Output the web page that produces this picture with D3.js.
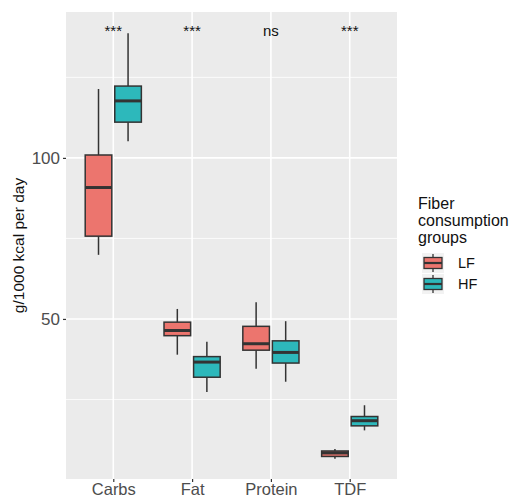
<!DOCTYPE html>
<meta charset="utf-8">
<style>
  body { margin: 0; background: #fff; }
  text { font-family: "Liberation Sans", Arial, sans-serif; }
</style>
<svg width="513" height="499"></svg>
<script src="https://cdn.jsdelivr.net/npm/d3@7"></script>
<script>

var categories = ["Carbs", "Fat", "Protein", "TDF"];
var groups = ["LF", "HF"];
var colors = ["#EC756E", "#2DB8BB"];

// five-number summaries, per group
var lfLow  = [69.9, 38.9, 34.5, 6.6];
var lfQ1   = [75.7, 44.8, 40.3, 7.3];
var lfMed  = [90.8, 46.4, 42.3, 8.4];
var lfQ3   = [100.9, 49.0, 47.7, 9.0];
var lfHigh = [121.4, 53.1, 55.2, 9.6];

var hfLow  = [105.2, 27.3, 30.5, 15.4];
var hfQ1   = [111.1, 31.9, 36.3, 16.8];
var hfMed  = [117.7, 36.6, 39.6, 18.4];
var hfQ3   = [122.3, 38.3, 43.2, 19.7];
var hfHigh = [138.7, 42.9, 49.3, 23.2];

var signif = ["***", "***", "ns", "***"];
var signifY = 139.5;

var yBreaks = [50, 100];
var yMinor = [25, 75, 125];

var svg = d3.select("svg"),
    pLeft = 66, pRight = 397, pTop = 12, pBottom = 479;

var x = d3.scalePoint().domain(categories).range([pLeft, pRight]).padding(0.6);
var step = x.step();
var sub = d3.scaleBand().domain(groups).range([-0.375 * step, 0.375 * step]);
var boxW = sub.bandwidth() * 0.9;
var y = d3.scaleLinear().domain([0.3, 145.3]).range([pBottom, pTop]);

// panel
svg.append("rect")
    .attr("x", pLeft).attr("y", pTop)
    .attr("width", pRight - pLeft).attr("height", pBottom - pTop)
    .attr("fill", "#EBEBEB");

svg.selectAll(".minor").data(yMinor).enter().append("line")
    .attr("x1", pLeft).attr("x2", pRight)
    .attr("y1", function (d) { return y(d); }).attr("y2", function (d) { return y(d); })
    .attr("stroke", "#fff").attr("stroke-width", 0.8);

svg.selectAll(".major").data(yBreaks).enter().append("line")
    .attr("x1", pLeft).attr("x2", pRight)
    .attr("y1", function (d) { return y(d); }).attr("y2", function (d) { return y(d); })
    .attr("stroke", "#fff").attr("stroke-width", 1.6);

svg.selectAll(".vgrid").data(categories).enter().append("line")
    .attr("x1", function (d) { return x(d); }).attr("x2", function (d) { return x(d); })
    .attr("y1", pTop).attr("y2", pBottom)
    .attr("stroke", "#fff").attr("stroke-width", 1.6);

// axes
var yAxis = svg.append("g")
    .attr("transform", "translate(" + pLeft + ",0)")
    .call(d3.axisLeft(y).tickValues(yBreaks).tickSize(3).tickPadding(3));
var xAxis = svg.append("g")
    .attr("transform", "translate(0," + pBottom + ")")
    .call(d3.axisBottom(x).tickSize(3).tickPadding(1.5));
[yAxis, xAxis].forEach(function (g) {
    g.select(".domain").remove();
    g.selectAll(".tick line").attr("stroke", "#333").attr("stroke-width", 1.2);
    g.selectAll(".tick text").attr("fill", "#4D4D4D")
        .style("font-family", "'Liberation Sans', Arial, sans-serif");
});
yAxis.selectAll(".tick text").style("font-size", "17px");
xAxis.selectAll(".tick text").style("font-size", "16.5px");

svg.append("text")
    .attr("transform", "translate(18," + ((pTop + pBottom) / 2) + ") rotate(-90)")
    .attr("text-anchor", "middle").attr("dominant-baseline", "central")
    .style("font-size", "15.5px").attr("fill", "#111")
    .text("g/1000 kcal per day");

// boxes
var stats = [
    {low: lfLow, q1: lfQ1, med: lfMed, q3: lfQ3, high: lfHigh},
    {low: hfLow, q1: hfQ1, med: hfMed, q3: hfQ3, high: hfHigh}
];
var boxes = [];
groups.forEach(function (g, gi) {
    categories.forEach(function (c, ci) {
        var s = stats[gi];
        boxes.push({cat: c, group: g, gi: gi, low: s.low[ci], q1: s.q1[ci], med: s.med[ci], q3: s.q3[ci], high: s.high[ci]});
    });
});

var bx = svg.selectAll(".box").data(boxes).enter().append("g")
    .attr("transform", function (d) { return "translate(" + (x(d.cat) + sub(d.group) + sub.bandwidth() / 2) + ",0)"; });

bx.append("line").attr("x1", 0).attr("x2", 0)
    .attr("y1", function (d) { return y(d.high); }).attr("y2", function (d) { return y(d.q3); })
    .attr("stroke", "#333").attr("stroke-width", 1.5);
bx.append("line").attr("x1", 0).attr("x2", 0)
    .attr("y1", function (d) { return y(d.q1); }).attr("y2", function (d) { return y(d.low); })
    .attr("stroke", "#333").attr("stroke-width", 1.5);
bx.append("rect")
    .attr("x", -boxW / 2).attr("width", boxW)
    .attr("y", function (d) { return y(d.q3); })
    .attr("height", function (d) { return y(d.q1) - y(d.q3); })
    .attr("fill", function (d) { return colors[d.gi]; })
    .attr("stroke", "#333").attr("stroke-width", 1.5);
bx.append("line").attr("x1", -boxW / 2).attr("x2", boxW / 2)
    .attr("y1", function (d) { return y(d.med); }).attr("y2", function (d) { return y(d.med); })
    .attr("stroke", "#333").attr("stroke-width", 3);

// significance labels
svg.selectAll(".sig").data(categories).enter().append("text")
    .attr("x", function (d) { return x(d); })
    .attr("y", y(signifY))
    .attr("text-anchor", "middle").attr("dominant-baseline", "central")
    .style("font-size", "15px").attr("fill", "#111")
    .text(function (d, i) { return signif[i]; });

// legend
var lg = svg.append("g").attr("transform", "translate(418,0)");
["Fiber", "consumption", "groups"].forEach(function (t, i) {
    lg.append("text").attr("x", 0).attr("y", 209 + i * 17)
        .style("font-size", "16px").attr("fill", "#111").text(t);
});
var key = lg.selectAll(".key").data(groups).enter().append("g")
    .attr("transform", function (d, i) { return "translate(4," + (253 + i * 21) + ")"; });
key.append("rect").attr("width", 22).attr("height", 20).attr("fill", "#F2F2F2");
key.append("line").attr("x1", 11).attr("x2", 11).attr("y1", 1).attr("y2", 19)
    .attr("stroke", "#333").attr("stroke-width", 1.3);
key.append("rect").attr("x", 2).attr("y", 4.5).attr("width", 18).attr("height", 11)
    .attr("fill", function (d, i) { return colors[i]; })
    .attr("stroke", "#333").attr("stroke-width", 1.3);
key.append("line").attr("x1", 2).attr("x2", 20).attr("y1", 10).attr("y2", 10)
    .attr("stroke", "#333").attr("stroke-width", 2.2);
key.append("text").attr("x", 36).attr("y", 10).attr("dominant-baseline", "central")
    .style("font-size", "14.5px").attr("fill", "#111").text(function (d) { return d; });

</script>
